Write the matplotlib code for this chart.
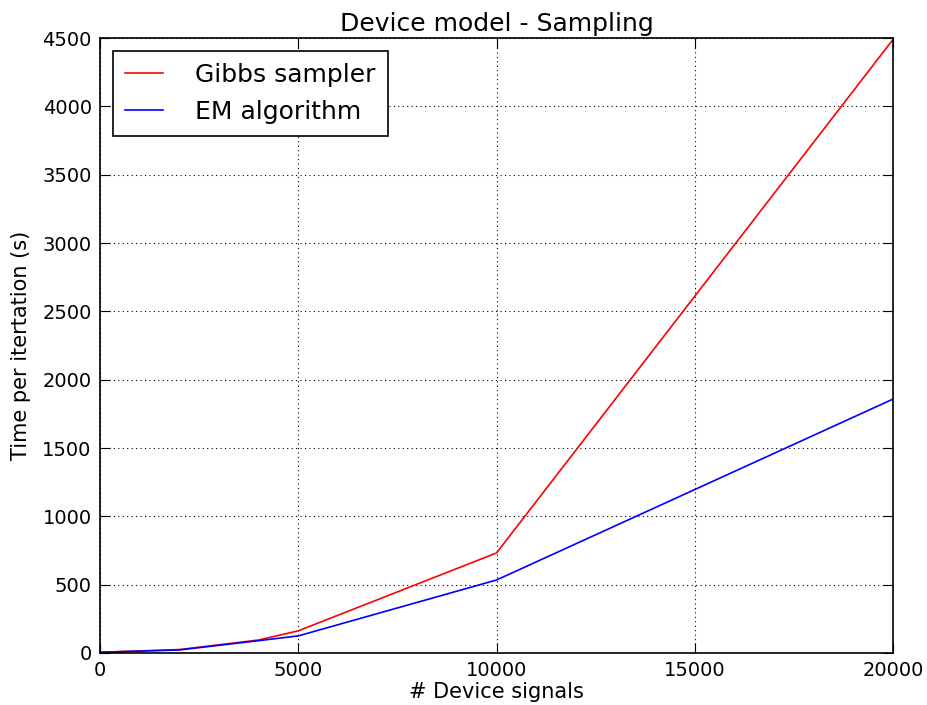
import numpy as np
import matplotlib
matplotlib.use("Agg")
import matplotlib.pyplot as plt

# data
signals = [0, 2000, 4000, 5000, 10000, 20000]
gibbs_time = [5, 25, 95, 162, 732, 4490]
em_time = [5, 22, 90, 125, 534, 1858]

fig = plt.figure(figsize=(9.28, 7.05), dpi=100)
ax = fig.add_axes([0.1078, 0.0738, 0.8545, 0.8722])

ax.plot(signals, gibbs_time, color="red", lw=1.2, label="Gibbs sampler")
ax.plot(signals, em_time, color="blue", lw=1.2, label="EM algorithm")

ax.set_xlim(0, 20000)
ax.set_ylim(0, 4500)
ax.set_xticks([0, 5000, 10000, 15000, 20000])
ax.set_yticks(np.arange(0, 4501, 500))
ax.tick_params(direction="in", length=7, labelsize=14, top=True, right=True, pad=6)
ax.grid(True, color="black", linestyle=(0, (1, 3)), linewidth=0.8)
for s in ax.spines.values():
    s.set_linewidth(1.2)

ax.set_title("Device model - Sampling", fontsize=18, pad=5)
ax.set_xlabel("# Device signals", fontsize=15, labelpad=1)
ax.set_ylabel("Time per itertation (s)", fontsize=15, labelpad=8)

leg = ax.legend(loc="upper left", fontsize=18, fancybox=False, framealpha=1,
                edgecolor="black", borderpad=0.5, handlelength=1.5,
                handletextpad=1.3, labelspacing=0.5)
leg.get_frame().set_linewidth(1.2)

fig.savefig("out.png", dpi=100)
